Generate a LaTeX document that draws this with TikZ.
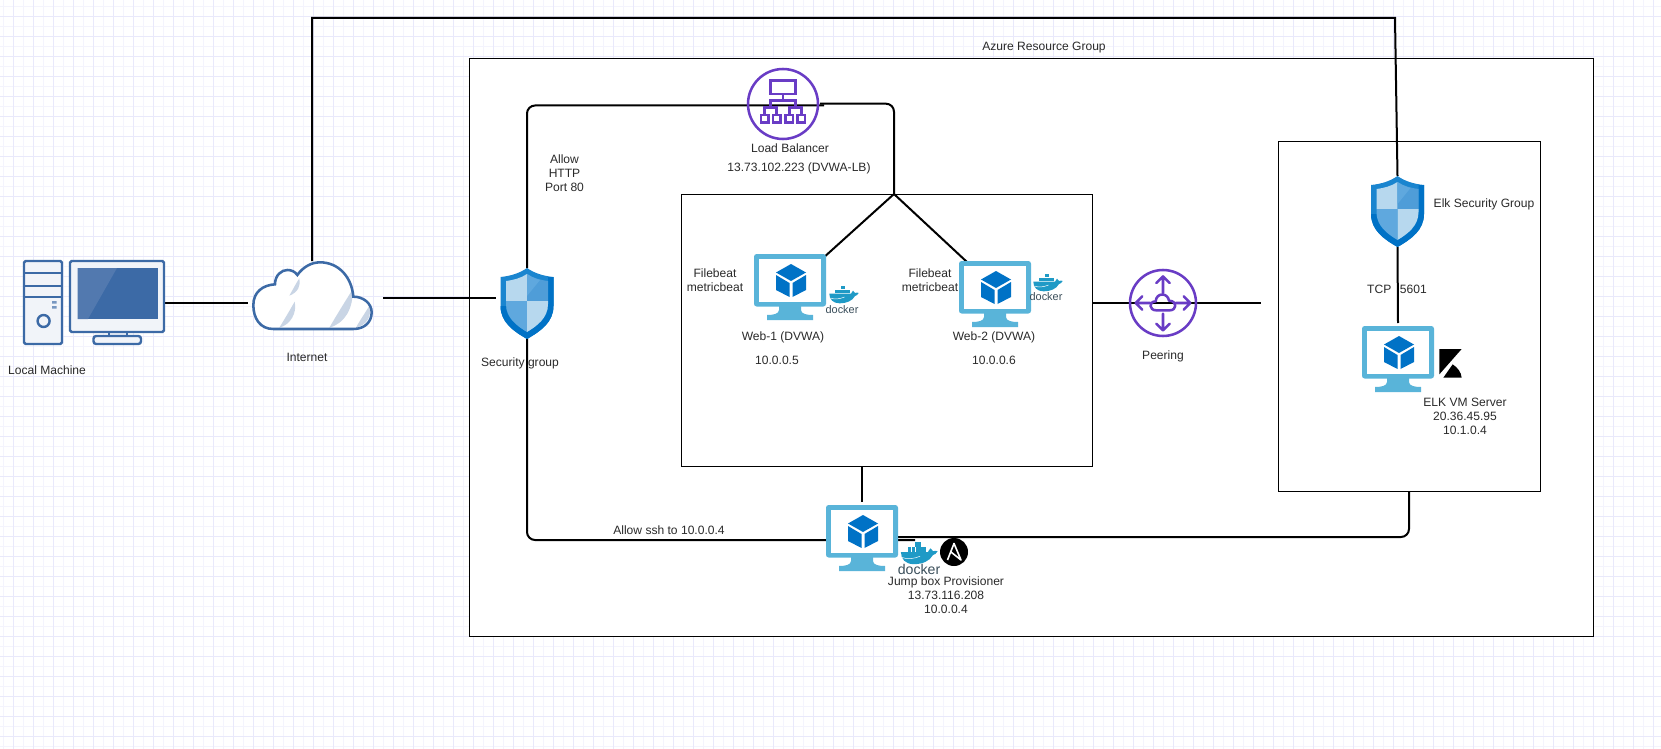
\documentclass[tikz,border=0pt]{standalone}
\usepackage{fontspec}
\setmainfont{Liberation Sans}
\definecolor{gridmaj}{HTML}{E9E9FB}
\definecolor{gridmin}{HTML}{F4F4FD}
\definecolor{pcblue}{HTML}{3C6AA6}
\definecolor{pclight}{HTML}{F1F4F9}
\definecolor{pcmid}{HTML}{5279AF}
\definecolor{cloudshade}{HTML}{C9D5E5}
\definecolor{vmframe}{HTML}{59B4D9}
\definecolor{cubeblue}{HTML}{0072C6}
\definecolor{purple1}{HTML}{693CC5}
\definecolor{shA}{HTML}{1A85CF}
\definecolor{shB}{HTML}{B7D8EE}
\definecolor{shC}{HTML}{4F9DD8}
\definecolor{shD}{HTML}{5FA8DE}
\definecolor{whale}{HTML}{1F9AC6}
\definecolor{dockertxt}{HTML}{3A4E5A}
\definecolor{txt}{HTML}{2A2A2A}
\newcommand{\bx}[6]{\node[inner sep=0pt,outer sep=0pt,minimum width={(#4-#2)*0.75pt},minimum height={(#5-#3)*0.75pt},#6] (#1) at ({(#2+#4)/2},{(#3+#5)/2}) {};}
\tikzset{
  x=0.75pt,y=-0.75pt,
  lbl/.style={font=\fontsize{9.05}{10.5}\selectfont,text=txt,inner sep=0pt,align=center},
  boxed/.style={draw=black,line width=0.7pt,fill=white},
  conn/.style={draw=black,line width=1.5pt},
  elbow/.style={conn,rounded corners=6pt},
  dockerlbl/.style={font=\fontsize{#1}{#1}\selectfont,text=dockertxt,inner sep=0pt},
  vmicon/.pic={
    \fill[vmframe] (25,50) -- (47,50) -- (47,56) .. controls (47,60) and (53,61) .. (59,61) -- (59,66) -- (13,66) -- (13,61) .. controls (19,61) and (25,60) .. (25,56) -- cycle;
    \fill[vmframe,rounded corners=2pt] (0,0) rectangle (72,52.5);
    \fill[white] (5,5) rectangle (67,47.5);
    \fill[cubeblue] (37,10) -- (52,18.5) -- (37,27) -- (22,18.5) -- cycle;
    \fill[cubeblue] (22,21) -- (35.5,29) -- (35.5,43) -- (22,36) -- cycle;
    \fill[cubeblue] (38.5,29) -- (52,21) -- (52,36) -- (38.5,43) -- cycle;
  },
  shieldicon/.pic={
    \fill[shA] (0,0) .. controls (7,5) and (16,8) .. (26.5,9) -- (26.5,38) .. controls (26.5,54) and (14,63) .. (0,71) .. controls (-14,63) and (-26.5,54) .. (-26.5,38) -- (-26.5,9) .. controls (-16,8) and (-7,5) .. (0,0) -- cycle;
    \fill[cubeblue] (0,71) .. controls (14,63) and (26.5,54) .. (26.5,38) -- (26.5,9) -- (21,9) -- (21,38) .. controls (21,50) and (10,58) .. (0,64) .. controls (-10,58) and (-21,50) .. (-21,38) -- (-26.5,38) .. controls (-26.5,54) and (-14,63) .. (0,71) -- cycle;
    \fill[shB] (0,6) -- (0,33) -- (-21,33) -- (-21,13) .. controls (-13,12) and (-6,10) .. (0,6) -- cycle;
    \fill[shC] (0,6) .. controls (6,10) and (13,12) .. (21,13) -- (21,33) -- (0,33) -- cycle;
    \fill[shD] (-21,33) -- (0,33) -- (0,64) .. controls (-10,58) and (-21,50) .. (-21,36) -- cycle;
    \fill[shB] (0,33) -- (21,33) -- (21,36) .. controls (21,50) and (10,58) .. (0,64) -- cycle;
    \fill[shD] (0,6) .. controls (6,10) and (10,11) .. (13,12) -- (0,28) -- cycle;
  },
  dockericon/.pic={
    \begin{scope}[x=0.25pt,y=-0.25pt]
      \fill[whale] (-41,-7) -- (24,-7) .. controls (26,-10) and (27,-14) .. (30,-16) .. controls (33,-13) and (35,-11) .. (36,-9) .. controls (40,-10) and (44,-11) .. (47,-9) .. controls (44,-3) and (40,-1) .. (36,0) .. controls (28,15) and (10,22) .. (-10,22) .. controls (-30,22) and (-41,10) .. (-41,-7) -- cycle;
      \foreach \cx in {-24,-15,-6,3,12}{\fill[whale] (\cx,-19) rectangle +(8.2,11);}
      \fill[whale] (-7,-31) rectangle +(13,11);
      \draw[white,line width=0.35pt] (-38,6) .. controls (-25,11) and (-10,9) .. (5,3);
    \end{scope}
  },
}
\begin{document}
\begin{tikzpicture}
\useasboundingbox (0,0) rectangle (1661,749);
\fill[white] (0,0) rectangle (1661,749);
\foreach \gx in {3.5,23.5,...,1660}{\draw[gridmin,line width=0.75pt] (\gx,0) -- (\gx,749);}
\foreach \gy in {6.5,26.5,...,748}{\draw[gridmin,line width=0.75pt] (0,\gy) -- (1661,\gy);}
\foreach \gx in {13.5,33.5,...,1660}{\draw[gridmaj,line width=0.75pt] (\gx,0) -- (\gx,749);}
\foreach \gy in {16.5,36.5,...,748}{\draw[gridmaj,line width=0.75pt] (0,\gy) -- (1661,\gy);}

% containers
\bx{rg}{469.5}{58.5}{1593.5}{636.5}{boxed}
\bx{web}{681.5}{194.5}{1092.5}{466.5}{boxed}
\bx{elkbox}{1278.5}{141.5}{1540.5}{491.5}{boxed}

% icon frames
\bx{pc}{70}{261}{164}{345}{}
\bx{cloud}{248}{261}{383}{335}{}
\bx{sg}{496}{268}{558}{338}{}
\bx{lb}{748}{69}{818}{139}{}
\bx{vmA}{754}{254}{826}{320}{}
\bx{vmB}{959}{261}{1031}{327}{}
\bx{jump}{826}{505}{898}{575}{}
\bx{elkvm}{1362}{323}{1434}{392}{}
\bx{elksg}{1371}{176}{1424}{247}{}
\bx{peer}{1130}{270}{1196}{336}{}

% junctions and free ends
\coordinate (hub) at (894,194);
\coordinate (lbA) at (824,105.5);
\coordinate (lbB) at (820,103.7);
\coordinate (topA) at (312,18);
\coordinate (topB) at (1395,18);
\coordinate (vmAin) at (822,259);
\coordinate (vmBin) at (967,262);
\coordinate (peerR) at (1261,303);
\coordinate (jumpTop) at (862,502);
\coordinate (jumpL) at (915,540);
\coordinate (jumpR) at (898,537);
\coordinate (elkDock) at (1409,491);

% connectors
\draw[conn] (pc.east) -- (pc.east -| cloud.west);
\draw[conn] (cloud.east) -- (cloud.east -| sg.west);
\draw[conn] (topA |- cloud.north) -- (topA) -- (topB) -- (elksg.north);
\draw[elbow] (sg.north) |- (lbA);
\draw[elbow] (lbB) -| (hub);
\draw[conn] (hub) -- (vmAin);
\draw[conn] (hub) -- (vmBin);
\draw[elbow] (sg.south) |- (jumpL);
\draw[elbow] (jumpR) -| (elkDock);
\draw[conn] (jumpTop |- web.south) -- (jumpTop);
\draw[conn] (peer -| web.east) -- (peerR);
\draw[conn] (elksg.south) -- (elkvm.north);

% local machine
\draw[pcblue,fill=pclight,line width=1.8pt,rounded corners=1.2pt] (24,261) rectangle (62,344);
\draw[pcblue,line width=1.7pt] (24,273) -- (62,273) (24,286) -- (62,286) (24,297) -- (62,297);
\fill[pcblue!70] (52,301) rectangle (56.5,303.5) (52,306) rectangle (56.5,308.5);
\draw[pcblue,line width=1.8pt] (43.6,321) circle (6);
\draw[pcblue,fill=pclight,line width=1.7pt] (109,332) rectangle (127,336);
\draw[pcblue,fill=pclight,line width=1.8pt,rounded corners=1.2pt] (70,261) rectangle (164,332);
\draw[pcblue,fill=pclight,line width=1.8pt,rounded corners=2pt] (93.5,336) rectangle (141,344);
\fill[pcblue] (77.5,268) rectangle (157.5,319);
\fill[pcmid] (77.5,268) -- (117,268) -- (88,319) -- (77.5,319) -- cycle;

% cloud
\begin{scope}[shift={(240,255)},x=0.25pt,y=-0.25pt]
  \fill[white] (100,222) .. controls (60,222) and (40,190) .. (40,150) .. controls (40,110) and (70,90) .. (105,88) .. controls (105,60) and (125,45) .. (142,45) .. controls (155,45) and (165,50) .. (172,60) .. controls (190,35) and (215,22) .. (240,22) .. controls (295,22) and (335,65) .. (340,125) .. controls (370,125) and (395,145) .. (395,172) .. controls (395,200) and (375,222) .. (340,222) -- cycle;
  \fill[cloudshade] (148,122) .. controls (158,105) and (168,85) .. (178,70) .. controls (183,90) and (175,112) .. (148,122) -- cycle;
  \fill[cloudshade] (118,218) .. controls (135,190) and (150,165) .. (164,140) .. controls (172,175) and (150,210) .. (118,218) -- cycle;
  \fill[cloudshade] (268,218) .. controls (290,180) and (315,140) .. (338,103) .. controls (340,160) and (315,205) .. (268,218) -- cycle;
  \fill[cloudshade] (348,218) .. controls (360,195) and (375,175) .. (388,152) .. controls (396,185) and (380,210) .. (348,218) -- cycle;
  \draw[pcblue,line width=1.9pt] (100,222) .. controls (60,222) and (40,190) .. (40,150) .. controls (40,110) and (70,90) .. (105,88) .. controls (105,60) and (125,45) .. (142,45) .. controls (155,45) and (165,50) .. (172,60) .. controls (190,35) and (215,22) .. (240,22) .. controls (295,22) and (335,65) .. (340,125) .. controls (370,125) and (395,145) .. (395,172) .. controls (395,200) and (375,222) .. (340,222) -- cycle;
\end{scope}

% shields
\pic at (527,268) {shieldicon};
\pic at (1397.5,176) {shieldicon};

% load balancer
\draw[purple1,line width=1.9pt] (lb.center) circle (35);
\begin{scope}[shift={(680,50)},x=0.25pt,y=-0.25pt,purple1,line width=1.9pt]
  \draw (272,92) rectangle (346,132);
  \draw (309,132) -- (309,152) (272,172) -- (272,152) -- (346,152) -- (346,172);
  \draw (254,195) -- (254,172) -- (290,172) -- (290,195);
  \draw (328,195) -- (328,172) -- (364,172) -- (364,195);
  \draw (243,195) rectangle (265,218);
  \draw (279,195) rectangle (301,218);
  \draw (317,195) rectangle (339,218);
  \draw (353,195) rectangle (375,218);
\end{scope}

% peering
\draw[purple1,line width=1.9pt] (peer.center) circle (33);
\begin{scope}[shift={(peer.center)},x=0.25pt,y=-0.25pt,purple1,line width=1.9pt,line cap=round,line join=round]
  \draw (0,-30) -- (0,-80) (-20,-60) -- (0,-80) -- (20,-60);
  \draw (0,32) -- (0,82) (-20,62) -- (0,82) -- (20,62);
  \draw (-38,0) -- (-82,0) (-62,-20) -- (-82,0) -- (-62,20);
  \draw (38,0) -- (82,0) (62,-20) -- (82,0) -- (62,20);
  \draw (-20,22) .. controls (-42,22) and (-44,-4) .. (-22,-5) .. controls (-20,-32) and (14,-32) .. (18,-7) .. controls (44,-6) and (42,22) .. (20,22) -- cycle;
\end{scope}

% VMs
\pic at (vmA.north west) {vmicon};
\pic at (vmB.north west) {vmicon};
\pic at (jump.north west) {vmicon};
\pic at (1362,326) {vmicon};

% docker badges
\pic at (843,296) {dockericon};
\pic at (1047,284) {dockericon};
\pic[scale=1.25] at (918,555) {dockericon};
\node[dockerlbl=8.2] (dockA) at (842,310) {docker};
\node[dockerlbl=8.2] (dockB) at (1046,297) {docker};
\node[dockerlbl=10.6] (dockC) at (919,569) {docker};

% ansible
\node[circle,fill=black,minimum size=21pt,inner sep=0pt] (ansible) at (954,552) {};
\begin{scope}[shift={(ansible.center)}]
  \draw[white,line width=1.2pt,line join=round] (-6.5,8) -- (0,-8.5) -- (7,8) -- (-3,0);
\end{scope}

% kibana
\begin{scope}[shift={(1100,130)},x=0.25pt,y=-0.25pt]
  \fill[black] (1018,657) -- (1085,657) -- (1018,733) -- cycle;
  \fill[black] (1030,743) -- (1058,703) .. controls (1072,712) and (1084,727) .. (1085,743) -- cycle;
\end{scope}

% labels
\node[lbl] (tAzure) at (1044,48) {Azure Resource Group};
\node[lbl] (tLocal) at (47,370) {Local Machine};
\node[lbl] (tNet) at (307,357) {Internet};
\node[lbl] (tSec) at (520,363) {Security group};
\node[lbl] (tAllow) at (564.5,173) {Allow\\HTTP\\Port 80};
\node[lbl] (tLB) at (790,148) {Load Balancer};
\node[lbl] (tLBip) at (799,168) {13.73.102.223 (DVWA-LB)};
\node[lbl] (tFA) at (715,280.5) {Filebeat\\metricbeat};
\node[lbl] (tFB) at (930,280.5) {Filebeat\\metricbeat};
\node[lbl] (tWA) at (783,337) {Web-1 (DVWA)};
\node[lbl] (tWB) at (994,337) {Web-2 (DVWA)};
\node[lbl] (tIA) at (777,360) {10.0.0.5};
\node[lbl] (tIB) at (994,360) {10.0.0.6};
\node[lbl] (tSsh) at (669,530) {Allow ssh to 10.0.0.4};
\node[lbl] (tJump) at (946,595) {Jump box Provisioner\\13.73.116.208\\10.0.0.4};
\node[lbl] (tPeer) at (1163,356) {Peering};
\node[lbl] (tElkSg) at (1484,204) {Elk Security Group};
\node[lbl] (tTcp) at (1397,289) {TCP\hspace{6.5pt}5601};
\node[lbl] (tElk) at (1465,416) {ELK VM Server\\20.36.45.95\\10.1.0.4};
\end{tikzpicture}
\end{document}
